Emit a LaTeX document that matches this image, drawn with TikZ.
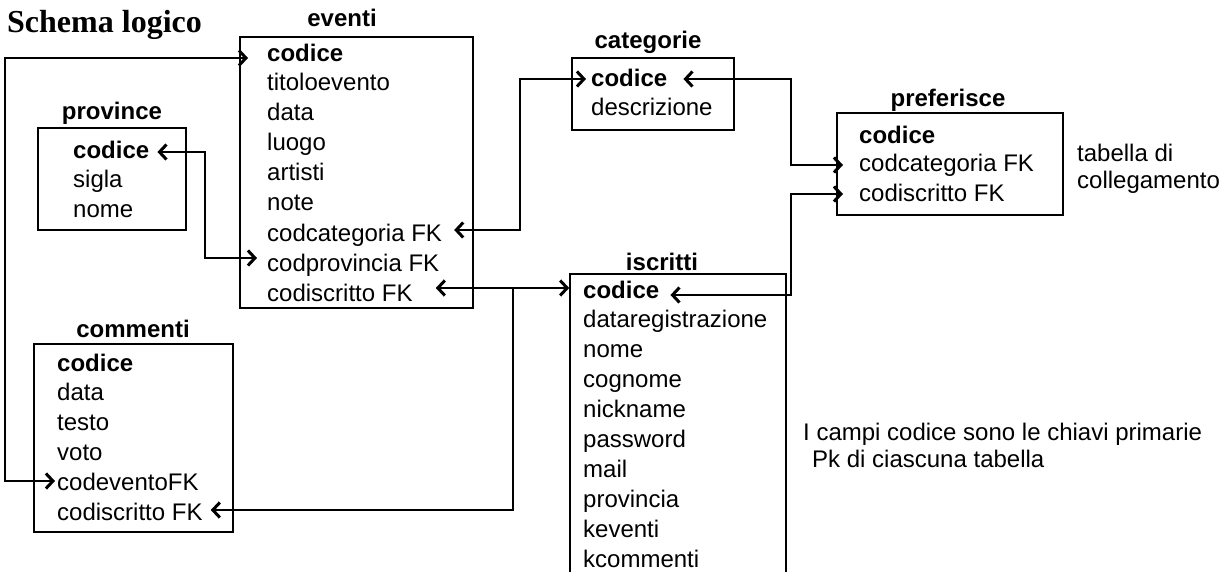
\documentclass[tikz,border=0pt]{standalone}
\usepackage{fontspec}
\setmainfont{Liberation Sans}
\newfontfamily\titlefont{Liberation Serif}
\usetikzlibrary{arrows.meta,calc}
\tikzset{
  tbl/.style={draw, line width=1.6pt, inner sep=0pt},
  row/.style={anchor=west, inner sep=0pt, text height=17pt, text depth=5pt, font=\fontsize{24}{28}\selectfont},
  key/.style={row, font=\bfseries\fontsize{24}{28}\selectfont},
  ttl/.style={inner sep=0pt, text height=17pt, text depth=5pt, font=\bfseries\fontsize{24}{28}\selectfont},
  tip/.tip={Straight Barb[length=7pt,width=15pt,line width=3pt]},
  link/.style={line width=1.7pt, arrows={tip-tip}},
  onelink/.style={line width=1.7pt, arrows={-tip}},
  note/.style={inner sep=0pt, align=left, font=\fontsize{24}{28}\selectfont}
}
\begin{document}
\begin{tikzpicture}[x=1pt,y=-1pt]
\useasboundingbox (0,0) rectangle (1231,572);
\clip (0,0) rectangle (1231,572);
\fill[white] (0,0) rectangle (1231,572);

% title
\node[anchor=base west, inner sep=0pt, font=\titlefont\bfseries\fontsize{32}{38}\selectfont] (title) at (7,33) {Schema logico};

% eventi
\node[tbl, minimum width=233pt, minimum height=271pt] (eventi) at (356.5,172.5) {};
\node[ttl] (eventi-t) at (342,21) {eventi};
\node[key] (ev1) at (267,56) {codice};
\node[row] (ev2) at (267,85) {titoloevento};
\node[row] (ev3) at (267,115) {data};
\node[row] (ev4) at (267,145) {luogo};
\node[row] (ev5) at (267,175) {artisti};
\node[row] (ev6) at (267,205) {note};
\node[row] (ev7) at (267,235) {codcategoria FK};
\node[row] (ev8) at (267,265) {codprovincia FK};
\node[row] (ev9) at (267,295) {codiscritto FK};

% province
\node[tbl, minimum width=148pt, minimum height=102pt] (province) at (112,179) {};
\node[ttl] (province-t) at (112,114) {province};
\node[key] (pr1) at (73,153) {codice};
\node[row] (pr2) at (73,182) {sigla};
\node[row] (pr3) at (73,212) {nome};

% categorie
\node[tbl, minimum width=162pt, minimum height=72pt] (categorie) at (653,94) {};
\node[ttl] (categorie-t) at (648,43) {categorie};
\node[key] (ca1) at (591,81) {codice};
\node[row] (ca2) at (591,110) {descrizione};

% preferisce
\node[tbl, minimum width=226pt, minimum height=102pt] (preferisce) at (950,164) {};
\node[ttl] (preferisce-t) at (948,101) {preferisce};
\node[key] (pf1) at (859,138) {codice};
\node[row] (pf2) at (859,166) {codcategoria FK};
\node[row] (pf3) at (859,195) {codiscritto FK};
\node[note, anchor=west] (tab) at (1077,169) {tabella di\\[-1pt]collegamento};

% iscritti (extends past the bottom edge)
\node[tbl, minimum width=216pt, minimum height=330pt] (iscritti) at (678,439) {};
\node[ttl] (iscritti-t) at (662,264) {iscritti};
\node[key] (is1) at (583,292) {codice};
\node[row] (is2) at (583,321) {dataregistrazione};
\node[row] (is3) at (583,351) {nome};
\node[row] (is4) at (583,381) {cognome};
\node[row] (is5) at (583,411) {nickname};
\node[row] (is6) at (583,441) {password};
\node[row] (is7) at (583,471) {mail};
\node[row] (is8) at (583,501) {provincia};
\node[row] (is9) at (583,531) {keventi};
\node[row] (is10) at (583,561) {kcommenti};

% commenti
\node[tbl, minimum width=199pt, minimum height=188pt] (commenti) at (133.5,438) {};
\node[ttl] (commenti-t) at (133,331) {commenti};
\node[key] (co1) at (57,365) {codice};
\node[row] (co2) at (57,394) {data};
\node[row] (co3) at (57,424) {testo};
\node[row] (co4) at (57,454) {voto};
\node[row] (co5) at (57,484) {codeventoFK};
\node[row] (co6) at (57,514) {codiscritto FK};

% note
\node[note, anchor=north west] (nota) at (803,423) {I campi codice sono le chiavi primarie\\[-1pt]\hspace*{9pt}Pk di ciascuna tabella};

% routing coordinates
\coordinate (xL) at (5,0);
\coordinate (xP) at (205,0);
\coordinate (xC) at (520,0);
\coordinate (xR) at (791,0);
\coordinate (xI) at (513,0);

% eventi.codice <-> commenti.codeventoFK
\coordinate (a1) at ([xshift=-19pt,yshift=-2pt]ev1.west);
\coordinate (a2) at ([xshift=-2pt,yshift=3pt]co5.west);
\draw[link] (a1) -- (a1 -| xL) -- (a2 -| xL) -- (a2);

% province.codice <-> eventi.codprovincia
\coordinate (b1) at ([xshift=8pt,yshift=1pt]pr1.east);
\coordinate (b2) at ([xshift=-10pt,yshift=7pt]ev8.west);
\draw[link] (b1) -- (b1 -| xP) -- (b2 -| xP) -- (b2);

% eventi.codcategoria <-> categorie.codice
\coordinate (c1) at ([xshift=12pt,yshift=5pt]ev7.east);
\coordinate (c2) at ([xshift=-5pt,yshift=2pt]ca1.west);
\draw[link] (c1) -- (c1 -| xC) -- (c2 -| xC) -- (c2);

% categorie.codice <-> preferisce.codcategoria
\coordinate (d1) at ([xshift=16pt,yshift=2pt]ca1.east);
\coordinate (d2) at ([xshift=-16pt,yshift=1pt]pf2.west);
\draw[link] (d1) -- (d1 -| xR) -- (d2 -| xR) -- (d2);

% iscritti.codice <-> preferisce.codiscritto
\coordinate (e1) at ([xshift=11pt,yshift=-3pt]is1.east);
\coordinate (e2) at ([xshift=-16pt,yshift=1pt]pf3.west);
\draw[link] (e1) -- (e1 -| xR) -- (e2 -| xR) -- (e2);

% eventi.codiscritto <-> iscritti.codice
\coordinate (f1) at ([xshift=23pt,yshift=7pt]ev9.east);
\coordinate (f2) at (iscritti.west |- f1);
\draw[link] (f1) -- (f2);
\coordinate (fj) at (f1 -| xI);
\coordinate (g2) at ([xshift=8pt,yshift=4pt]co6.east);
\draw[onelink] (fj) -- (g2 -| xI) -- (g2);
\end{tikzpicture}
\end{document}
